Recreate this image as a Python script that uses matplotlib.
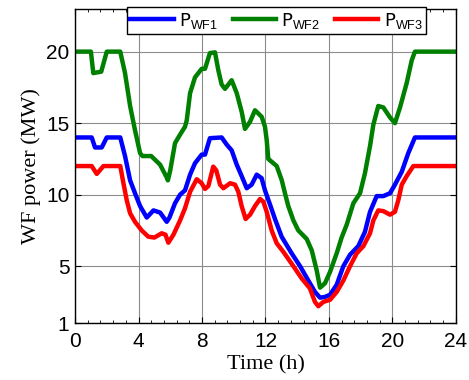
import numpy as np
import matplotlib
matplotlib.use('Agg')
import matplotlib.pyplot as plt
from matplotlib.ticker import AutoMinorLocator

# 风电场出力曲线
t_wf1 = [0, 1.05, 1.26, 1.68, 2.0, 2.85, 3.15, 3.47, 3.78, 4.1, 4.52, 4.94, 5.36, 5.78, 5.95,
         6.3, 6.62, 6.93, 7.25, 7.56, 7.98, 8.19, 8.5, 9.24, 9.56, 9.87, 10.19, 10.5, 10.82,
         11.13, 11.45, 11.76, 11.97, 12.29, 12.6, 13.02, 13.65, 14.18, 14.7, 15.12, 15.44,
         15.75, 16.07, 16.49, 16.91, 17.33, 17.85, 18.27, 18.59, 19.01, 19.43, 19.85, 20.16,
         20.59, 21.0, 21.42, 24]
p_wf1 = [14, 14, 13.3, 13.3, 14, 14, 12.7, 11.0, 10.1, 9.2, 8.4, 8.9, 8.75, 8.1, 8.4,
         9.4, 10.0, 10.3, 11.4, 12.2, 12.8, 12.8, 13.95, 14.0, 13.5, 13.1, 12.1, 11.3, 10.45,
         10.7, 11.4, 11.15, 10.3, 9.3, 8.3, 7.06, 5.9, 5.0, 4.0, 3.2, 2.8,
         2.85, 3.0, 3.7, 5.0, 5.8, 6.4, 7.4, 8.8, 9.9, 9.9, 10.1, 10.7,
         11.6, 12.9, 14, 14]

t_wf2 = [0, 1.0, 1.15, 1.65, 2.0, 2.85, 3.15, 3.47, 3.78, 4.1, 4.25, 4.8, 5.36, 5.78, 5.85,
         6.0, 6.3, 6.62, 6.93, 7.04, 7.25, 7.56, 7.98, 8.19, 8.5, 8.82, 9.03, 9.24, 9.45,
         9.87, 10.19, 10.5, 10.71, 11.03, 11.34, 11.76, 11.97, 12.08, 12.18, 12.71, 13.03,
         13.23, 13.44, 13.76, 14.07, 14.6, 14.92, 15.23, 15.44, 15.75, 16.07, 16.49, 16.8,
         17.12, 17.54, 17.96, 18.27, 18.59, 18.8, 19.11, 19.43, 19.85, 20.16, 20.48, 20.9,
         21.22, 21.42, 24]
p_wf2 = [20, 20, 18.5, 18.6, 20, 20, 18.5, 16.2, 14.5, 12.9, 12.7, 12.7, 12.1, 11.2, 11.0,
         11.7, 13.6, 14.2, 14.75, 15.2, 17.1, 18.2, 18.8, 18.8, 19.9, 19.95, 18.7, 17.7, 17.4,
         18.0, 17.1, 15.8, 14.6, 15.1, 15.9, 15.45, 14.75, 13.8, 12.5, 12.0, 11.0,
         10.1, 9.2, 8.2, 7.5, 6.9, 6.1, 4.7, 3.5, 3.8, 4.6, 5.9, 7.0,
         7.9, 9.4, 10.1, 11.5, 13.4, 14.9, 16.2, 16.1, 15.4, 15.0, 16.1, 17.8,
         19.4, 20, 20]

t_wf3 = [0, 1.05, 1.37, 1.79, 2.85, 3.05, 3.26, 3.47, 3.78, 4.2, 4.62, 5.0, 5.46, 5.7, 5.88,
         6.2, 6.62, 6.93, 7.25, 7.67, 7.98, 8.19, 8.4, 8.71, 8.9, 9.14, 9.35, 9.77, 10.08,
         10.29, 10.5, 10.75, 11.03, 11.34, 11.66, 11.87, 12.08, 12.39, 12.71, 13.13, 13.76,
         14.28, 14.8, 15.12, 15.33, 15.65, 16.07, 16.49, 16.91, 17.33, 17.75, 18.17, 18.59,
         18.8, 19.11, 19.43, 19.85, 20.16, 20.37, 20.59, 20.9, 21.32, 24]
p_wf3 = [12, 12, 11.45, 12, 12, 10.8, 9.6, 8.7, 8.1, 7.5, 7.06, 7.0, 7.3, 7.2, 6.64,
         7.2, 8.2, 9.05, 10.2, 11.08, 10.8, 10.4, 10.6, 11.96, 11.7, 10.7, 10.45, 10.8, 10.7,
         10.2, 9.2, 8.3, 8.6, 9.2, 9.7, 9.5, 8.8, 7.5, 6.6, 6.0, 5.0,
         4.15, 3.45, 2.5, 2.2, 2.5, 2.65, 3.2, 4.0, 5.0, 5.9, 6.4, 7.3,
         8.2, 8.9, 8.85, 8.6, 8.8, 9.6, 10.7, 11.3, 12, 12]

x_ticks = [0, 4, 8, 12, 16, 20, 24]
y_ticks = [1, 5, 10, 15, 20]

plt.rcParams['mathtext.fontset'] = 'custom'
plt.rcParams['mathtext.rm'] = 'Liberation Sans'
plt.rcParams['mathtext.it'] = 'Liberation Sans'

fig = plt.figure(figsize=(4.69, 3.8), dpi=100)
ax = fig.add_axes([0.16, 0.149, 0.812, 0.828])

ax.plot(t_wf1, p_wf1, color='#0000ff', lw=3.2, solid_joinstyle='round', label=r'P$_{\mathrm{WF1}}$')
ax.plot(t_wf2, p_wf2, color='#008000', lw=3.2, solid_joinstyle='round', label=r'P$_{\mathrm{WF2}}$')
ax.plot(t_wf3, p_wf3, color='#ff0000', lw=3.2, solid_joinstyle='round', label=r'P$_{\mathrm{WF3}}$')

ax.set_xlim(0, 24)
ax.set_ylim(1, 23)
ax.set_xticks(x_ticks)
ax.set_yticks(y_ticks)
ax.xaxis.set_minor_locator(AutoMinorLocator(5))
ax.tick_params(which='both', direction='in', top=True, right=True)
ax.tick_params(which='major', length=4, labelsize=15)
ax.tick_params(axis='x', which='major', pad=6)
ax.tick_params(axis='y', which='major', pad=4)
ax.tick_params(which='minor', length=2)
for lab in ax.get_xticklabels() + ax.get_yticklabels():
    lab.set_family('Liberation Sans')
ax.grid(True, color='#8c8c8c', lw=0.8)
for s in ax.spines.values():
    s.set_linewidth(1.0)

ax.set_xlabel('Time (h)', family='Liberation Serif', fontsize=16, labelpad=3)
ax.set_ylabel('WF power (MW)', family='Liberation Serif', fontsize=16, labelpad=4)

leg = ax.legend(loc='upper center', bbox_to_anchor=(0.529, 1.005), ncol=3, fontsize=13,
                frameon=True, fancybox=False, framealpha=1, edgecolor='black',
                handlelength=2.4, handletextpad=0.3, columnspacing=0.8, borderpad=0.2,
                borderaxespad=0)
leg.get_frame().set_linewidth(1.0)

fig.savefig('out.png', dpi=100)
